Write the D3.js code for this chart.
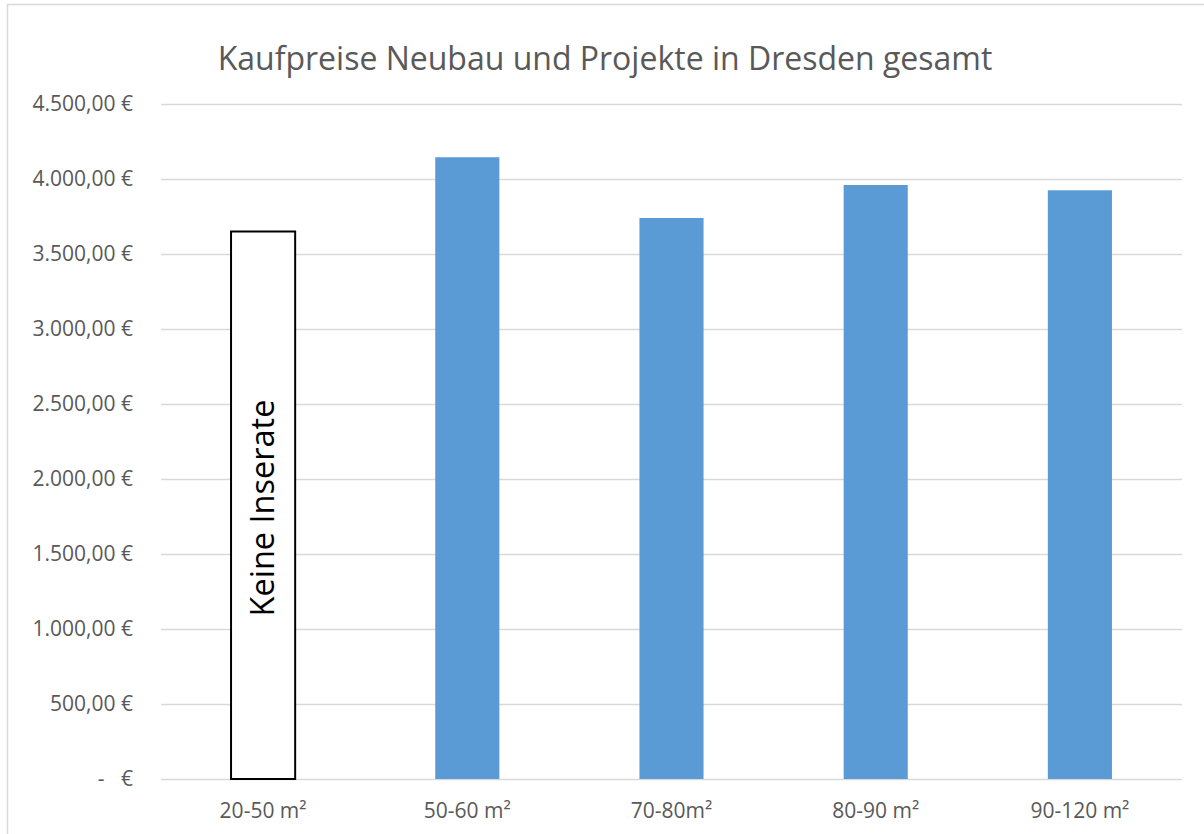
<!DOCTYPE html>
<html>
<head>
<meta charset="utf-8">
<script src="https://cdnjs.cloudflare.com/ajax/libs/d3/7.8.5/d3.min.js"></script>
<style>
  body { margin: 0; background: #fff; }
  text { font-family: "Open Sans", "Liberation Sans", sans-serif; }
</style>
</head>
<body>
<script>
// Daten
var kategorien = ["20-50 m²", "50-60 m²", "70-80m²", "80-90 m²", "90-120 m²"];
var preise = [3650, 4145, 3740, 3960, 3925];
var keineDaten = [true, false, false, false, false];
var tickWerte = [0, 500, 1000, 1500, 2000, 2500, 3000, 3500, 4000, 4500];
var tickTexte = ["-   €", "500,00 €", "1.000,00 €", "1.500,00 €", "2.000,00 €",
                 "2.500,00 €", "3.000,00 €", "3.500,00 €", "4.000,00 €", "4.500,00 €"];

var width = 1204, height = 834;
var plotLeft = 161, plotRight = 1182, plotTop = 104, plotBottom = 779;

var svg = d3.select("body").append("svg")
    .attr("width", width)
    .attr("height", height);

// Rahmen
svg.append("rect")
    .attr("x", 7.5).attr("y", 4.5)
    .attr("width", 1220).attr("height", 860)
    .attr("fill", "none")
    .attr("stroke", "#D9D9D9")
    .attr("stroke-width", 1.5);

var xScale = d3.scaleBand()
    .domain(kategorien)
    .range([plotLeft, plotRight])
    .paddingInner(0.686)
    .paddingOuter(0.343);
var yScale = d3.scaleLinear()
    .domain([0, 4500])
    .range([plotBottom, plotTop]);

// Gitterlinien
var yAxis = d3.axisLeft(yScale)
    .tickValues(tickWerte)
    .tickSize(-(plotRight - plotLeft))
    .tickPadding(28)
    .tickFormat(function(d, i) { return tickTexte[i]; });

var yG = svg.append("g")
    .attr("transform", "translate(" + plotLeft + ",0)")
    .call(yAxis);
yG.select(".domain").remove();
yG.selectAll(".tick line").attr("stroke", "#D9D9D9").attr("stroke-width", 1.5);
yG.selectAll(".tick text")
    .attr("fill", "#595959")
    .style("font-size", "21px")
    .style("white-space", "pre");

// Balken
var bars = svg.append("g");
bars.selectAll("rect").data(preise).enter()
    .append("rect")
    .attr("x", function(d, i) { return xScale(kategorien[i]); })
    .attr("y", function(d) { return yScale(d); })
    .attr("width", xScale.bandwidth())
    .attr("height", function(d) { return plotBottom - yScale(d); })
    .attr("fill", function(d, i) { return keineDaten[i] ? "#fff" : "#5B9BD5"; })
    .attr("stroke", function(d, i) { return keineDaten[i] ? "#000" : "none"; })
    .attr("stroke-width", 2);

// "Keine Inserate" Beschriftung
var cx = xScale(kategorien[0]) + xScale.bandwidth() / 2;
svg.append("text")
    .attr("transform", "translate(" + (cx + 11) + "," + 508 + ") rotate(-90)")
    .attr("text-anchor", "middle")
    .attr("fill", "#000")
    .style("font-size", "32.5px")
    .text("Keine Inserate");

// x-Achse
var xAxis = d3.axisBottom(xScale).tickSize(0).tickPadding(24);
var xG = svg.append("g")
    .attr("transform", "translate(0," + plotBottom + ")")
    .call(xAxis);
xG.select(".domain").remove();
xG.selectAll(".tick text")
    .attr("fill", "#595959")
    .style("font-size", "21px");

// Titel
svg.append("text")
    .attr("x", 605)
    .attr("y", 70)
    .attr("text-anchor", "middle")
    .attr("fill", "#595959")
    .style("font-size", "32px")
    .text("Kaufpreise Neubau und Projekte in Dresden gesamt");
</script>
</body>
</html>
